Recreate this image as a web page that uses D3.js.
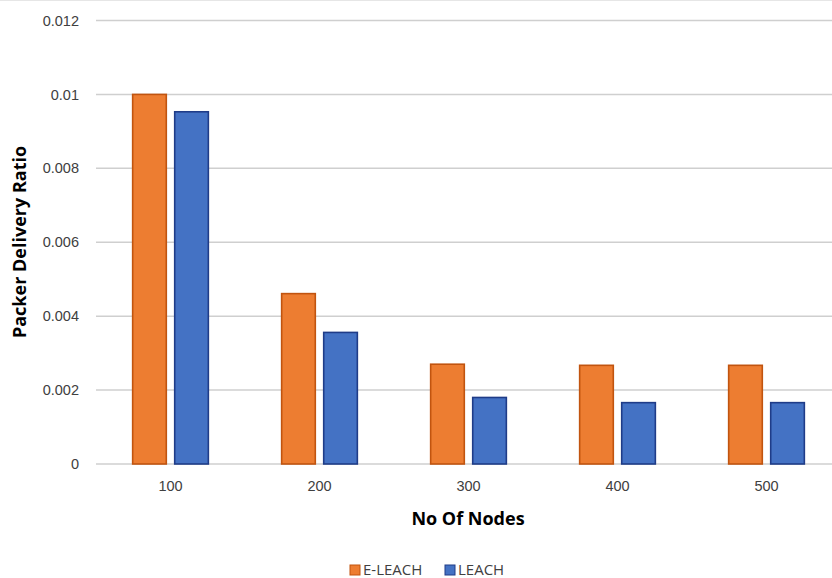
<!DOCTYPE html>
<html>
<head>
<meta charset="utf-8">
<script src="https://cdn.jsdelivr.net/npm/d3@7"></script>
<style>
  body { margin: 0; background: #fff; }
  svg { display: block; font-family: "Open Sans", "Noto Sans", sans-serif; }
</style>
</head>
<body>
<svg id="chart" width="832" height="578"></svg>
<script>
// Packet delivery ratio per network size
const categories = ["100", "200", "300", "400", "500"];
const seriesNames = ["E-LEACH", "LEACH"];
const eleach = [0.0100, 0.00461, 0.00270, 0.00267, 0.00267];
const leach = [0.00953, 0.00356, 0.00180, 0.00166, 0.00166];
const yTicks = [0, 0.002, 0.004, 0.006, 0.008, 0.01, 0.012];
const yTickLabels = ["0", "0.002", "0.004", "0.006", "0.008", "0.01", "0.012"];

const colors = {
  "E-LEACH": { fill: "#ED7D31", stroke: "#C1540F" },
  "LEACH": { fill: "#4472C4", stroke: "#1F3C88" }
};

const svg = d3.select("#chart");
const margin = { left: 96, right: -9, top: 20.5, bottom: 114 };
const W = 832, H = 578;

const x = d3.scaleBand().domain(categories)
  .range([margin.left, W - margin.right]).paddingInner(0).paddingOuter(0);
const xInner = d3.scaleBand().domain(seriesNames)
  .range([x.bandwidth() * 0.246, x.bandwidth() * 0.754]).paddingInner(0.2);
const y = d3.scaleLinear().domain([0, 0.012]).range([H - margin.bottom, margin.top]);

// top frame line
svg.append("line").attr("x1", 0).attr("x2", W).attr("y1", 0.5).attr("y2", 0.5)
  .attr("stroke", "#e6e6e6").attr("stroke-width", 1);

// horizontal gridlines and y labels
const yAxis = d3.axisLeft(y).tickValues(yTicks)
  .tickFormat((d, i) => yTickLabels[i]).tickSize(0).tickPadding(17);
const gy = svg.append("g").attr("transform", `translate(${margin.left},0)`).call(yAxis);
gy.select(".domain").remove();
gy.selectAll("text").attr("font-size", 14.5).attr("fill", "#404040");

svg.append("g").selectAll("line").data(yTicks).join("line")
  .attr("x1", margin.left).attr("x2", W)
  .attr("y1", d => y(d)).attr("y2", d => y(d))
  .attr("stroke", "#cfcfcf").attr("stroke-width", 1.5);

// bars
const rows = categories.map((c, i) => ({ c, vals: [eleach[i], leach[i]] }));
const groups = svg.append("g").selectAll("g").data(rows).join("g")
  .attr("transform", d => `translate(${x(d.c)},0)`);
groups.selectAll("rect").data(d => d.vals.map((v, j) => ({ name: seriesNames[j], v })))
  .join("rect")
  .attr("x", d => xInner(d.name))
  .attr("width", xInner.bandwidth())
  .attr("y", d => y(d.v))
  .attr("height", d => y(0) - y(d.v))
  .attr("fill", d => colors[d.name].fill)
  .attr("stroke", d => colors[d.name].stroke)
  .attr("stroke-width", 1.6);

// x axis labels
const xAxis = d3.axisBottom(x).tickSize(0).tickPadding(17);
const gx = svg.append("g").attr("transform", `translate(0,${y(0)})`).call(xAxis);
gx.select(".domain").remove();
gx.selectAll("text").attr("font-size", 14.5).attr("fill", "#404040");

// axis titles
svg.append("text")
  .attr("x", 468).attr("y", 525)
  .attr("text-anchor", "middle").attr("font-size", 18).attr("font-weight", "bold")
  .attr("fill", "#000").text("No Of Nodes");

svg.append("text")
  .attr("transform", "translate(26,242) rotate(-90)")
  .attr("text-anchor", "middle").attr("font-size", 18).attr("font-weight", "bold")
  .attr("fill", "#000").text("Packer Delivery Ratio");

// legend
const legendItems = [{ name: "E-LEACH", x: 350 }, { name: "LEACH", x: 445 }];
const lg = svg.append("g").selectAll("g").data(legendItems).join("g")
  .attr("transform", d => `translate(${d.x},570)`);
lg.append("rect").attr("x", 0).attr("y", -5).attr("width", 10).attr("height", 10)
  .attr("fill", d => colors[d.name].fill).attr("stroke", d => colors[d.name].stroke).attr("stroke-width", 1);
lg.append("text").attr("x", 13).attr("y", 0).attr("dy", "0.35em")
  .attr("font-size", 15).attr("fill", "#404040").text(d => d.name);
</script>
</body>
</html>
